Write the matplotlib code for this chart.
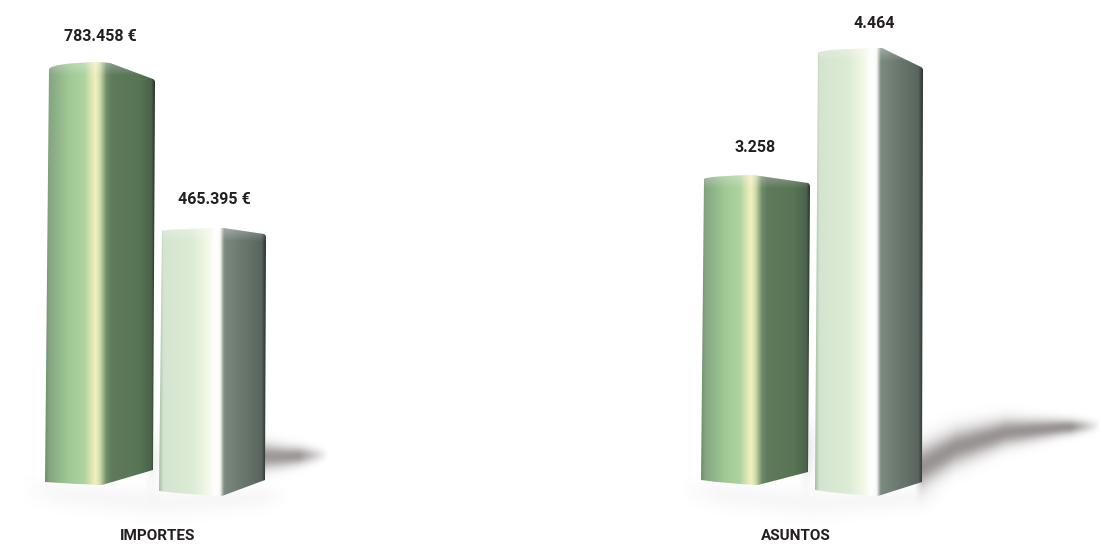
import numpy as np
import matplotlib as mpl
import matplotlib.pyplot as plt
from matplotlib.colors import LinearSegmentedColormap
from matplotlib.patches import PathPatch
from matplotlib.path import Path

mpl.rcParams['font.family'] = ['Roboto', 'Open Sans', 'DejaVu Sans']
mpl.rcParams['font.weight'] = 'bold'

# Values
importes = [783458, 465395]
asuntos = [3258, 4464]
importes_labels = ['783.458 €', '465.395 €']
asuntos_labels = ['3.258', '4.464']
panel_names = ['IMPORTES', 'ASUNTOS']

W, H = 1103, 546

green = LinearSegmentedColormap.from_list('green', [
    (0.00, '#6f8f6e'), (0.04, '#86a682'), (0.22, '#a0c995'), (0.36, '#aed4a0'),
    (0.43, '#e4e8b6'), (0.46, '#f0f0c2'), (0.50, '#d0dca8'), (0.56, '#6f8c6a'), (0.61, '#5e7a5b'),
    (0.85, '#587556'), (0.97, '#4a634a'), (1.00, '#263028')])
white = LinearSegmentedColormap.from_list('white', [
    (0.00, '#a8bca6'), (0.04, '#d4e4d0'), (0.30, '#dcebd3'), (0.45, '#f2f7e6'),
    (0.52, '#ffffff'), (0.57, '#fafbf8'), (0.61, '#7c8a80'), (0.80, '#69766c'),
    (0.96, '#5a665d'), (1.00, '#2c332e')])
shadow_rgb = (0.60, 0.58, 0.58)

# Bar outline in pixels: left, peak and right x on top and bottom, plus y drops
importes_geo = [
    dict(top=(49, 100, 110, 155), drop=(7, 1, 18), bottom=(45, 102, 153), base=(482, 485, 470)),
    dict(top=(162, 223, 223, 266), drop=(3, 0, 7), bottom=(159, 222, 265), base=(491, 496, 480)),
]
asuntos_geo = [
    dict(top=(704, 753, 753, 810), drop=(4, 0, 9), bottom=(701, 758, 808), base=(480, 485, 472)),
    dict(top=(818, 882, 882, 923), drop=(5, 0, 20), bottom=(815, 878, 922), base=(490, 496, 482)),
]


def y_limits(values, tops):
    # value scale from the two bar tops, over the whole figure height
    per_px = (values[0] - values[1]) / (tops[1] - tops[0])
    zero = tops[0] + values[0] / per_px
    return (zero - H) * per_px, zero * per_px


def draw_bar(ax, value, geo, cmap):
    lo, hi = ax.get_ylim()
    per_px = (hi - lo) / H
    to_y = lambda px: hi - px * per_px
    xl, xp, xr, xe = geo['top']
    bl, bm, be = geo['bottom']
    yl, yr, ye = [value - d * per_px for d in geo['drop']]
    y0, y1, y2 = [to_y(p) for p in geo['base']]
    verts = [(bl, y0), (xl, yl), (xl + 3, value - 1 * per_px), (xp, value), (xr, yr), (xe - 2, ye + 1 * per_px),
             (xe, ye), (xe, ye - 2 * per_px), (be, y2), (bm, y1), ((bl + bm) / 2, y1 + 1 * per_px), (bl, y0)]
    codes = [Path.MOVETO, Path.LINETO, Path.CURVE3, Path.CURVE3, Path.LINETO, Path.LINETO,
             Path.CURVE3, Path.CURVE3, Path.LINETO, Path.LINETO, Path.CURVE3, Path.CURVE3]
    outline = PathPatch(Path(verts, codes), fc='none', ec='none', transform=ax.transData)
    ax.add_patch(outline)
    img = ax.imshow(np.linspace(0, 1, 256)[None, :], cmap=cmap, vmin=0, vmax=1, aspect='auto',
                    extent=[min(bl, xl), xe, to_y(H - 1), value + 1 * per_px], zorder=3, interpolation='bilinear')
    img.set_clip_path(outline)
    # light rim on the top face
    rim = np.ones((14, 1, 4))
    rim[..., 3] = np.linspace(0.3, 0, 14)[:, None]
    cap = ax.imshow(rim, aspect='auto', extent=[min(bl, xl), xe, value - 14 * per_px, value + 1 * per_px],
                    zorder=4, interpolation='bilinear')
    cap.set_clip_path(outline)


def draw_shadow(ax, xs, ys, widths, strength=1.0, zorder=1, ramp=8):
    # soft streak in pixel coordinates, mapped onto the axes data range
    lo, hi = ax.get_ylim()
    x0, x1 = min(xs) - 30, max(xs) + 30
    y0, y1 = min(ys) - 50, max(ys) + 50
    px, py = np.meshgrid(np.arange(x0, x1), np.arange(y0, y1))
    cy = np.interp(px, xs, ys)
    cw = np.interp(px, xs, widths)
    fade = np.clip((px - xs[0] + 6) / ramp, 0, 1) * np.clip((xs[-1] - px) / 30, 0, 1)
    alpha = np.exp(-((py - cy) / np.maximum(cw, 0.5)) ** 2) * fade * strength
    rgba = np.zeros(px.shape + (4,))
    rgba[..., :3] = shadow_rgb
    rgba[..., 3] = alpha
    per_px = (hi - lo) / H
    ax.imshow(rgba, aspect='auto', extent=[x0, x1, hi - y1 * per_px, hi - y0 * per_px],
              zorder=zorder, interpolation='bilinear')


fig = plt.figure(figsize=(W / 100, H / 100), dpi=100)
fig.patch.set_facecolor('white')
panels = [
    (importes, importes_labels, importes_geo, (62, 228), [100, 214], [26, 29], 158),
    (asuntos, asuntos_labels, asuntos_geo, (175, 48), [755, 874], [27, 24], 796),
]
for idx, (values, labels, geos, tops, label_x, pads, name_x) in enumerate(panels):
    ax = fig.add_axes([0, 0, 1, 1])
    ax.patch.set_alpha(0)
    ax.set_axis_off()
    ax.set_ylim(*y_limits(values, tops))
    ax.set_xlim(0, W)
    if idx == 0:
        draw_shadow(ax, [262, 285, 305, 328], [456, 456, 455, 454], [13, 10, 8, 5], 0.95)
        draw_shadow(ax, [25, 160, 290], [490, 503, 496], [12, 14, 10], 0.07, ramp=40)
        draw_shadow(ax, [150, 165], [460, 460], [25, 25], 0.3)
    else:
        draw_shadow(ax, [920, 955, 1005, 1060, 1100], [467, 447, 432, 427, 425],
                    [20, 17, 13, 8, 5], 1.0)
        draw_shadow(ax, [685, 810, 945], [490, 503, 496], [12, 14, 10], 0.07, ramp=40)
        draw_shadow(ax, [804, 818], [450, 450], [28, 28], 0.6)
    for value, geo, cmap in zip(values, geos, [green, white]):
        draw_bar(ax, value, geo, cmap)
    for value, x, label, pad in zip(values, label_x, labels, pads):
        ax.annotate(label, (x, value), xytext=(0, pad * 0.72), textcoords='offset points',
                    ha='center', va='center', fontsize=11.5, color='#231f20', zorder=5)
    ax.text(name_x / W, 1 - 536 / H, panel_names[idx], transform=ax.transAxes, ha='center', va='center',
            fontsize=11, color='#231f20', zorder=5)
    ax.set_xlim(0, W)
    ax.set_ylim(*y_limits(values, tops))

fig.savefig('out.png', dpi=100)
